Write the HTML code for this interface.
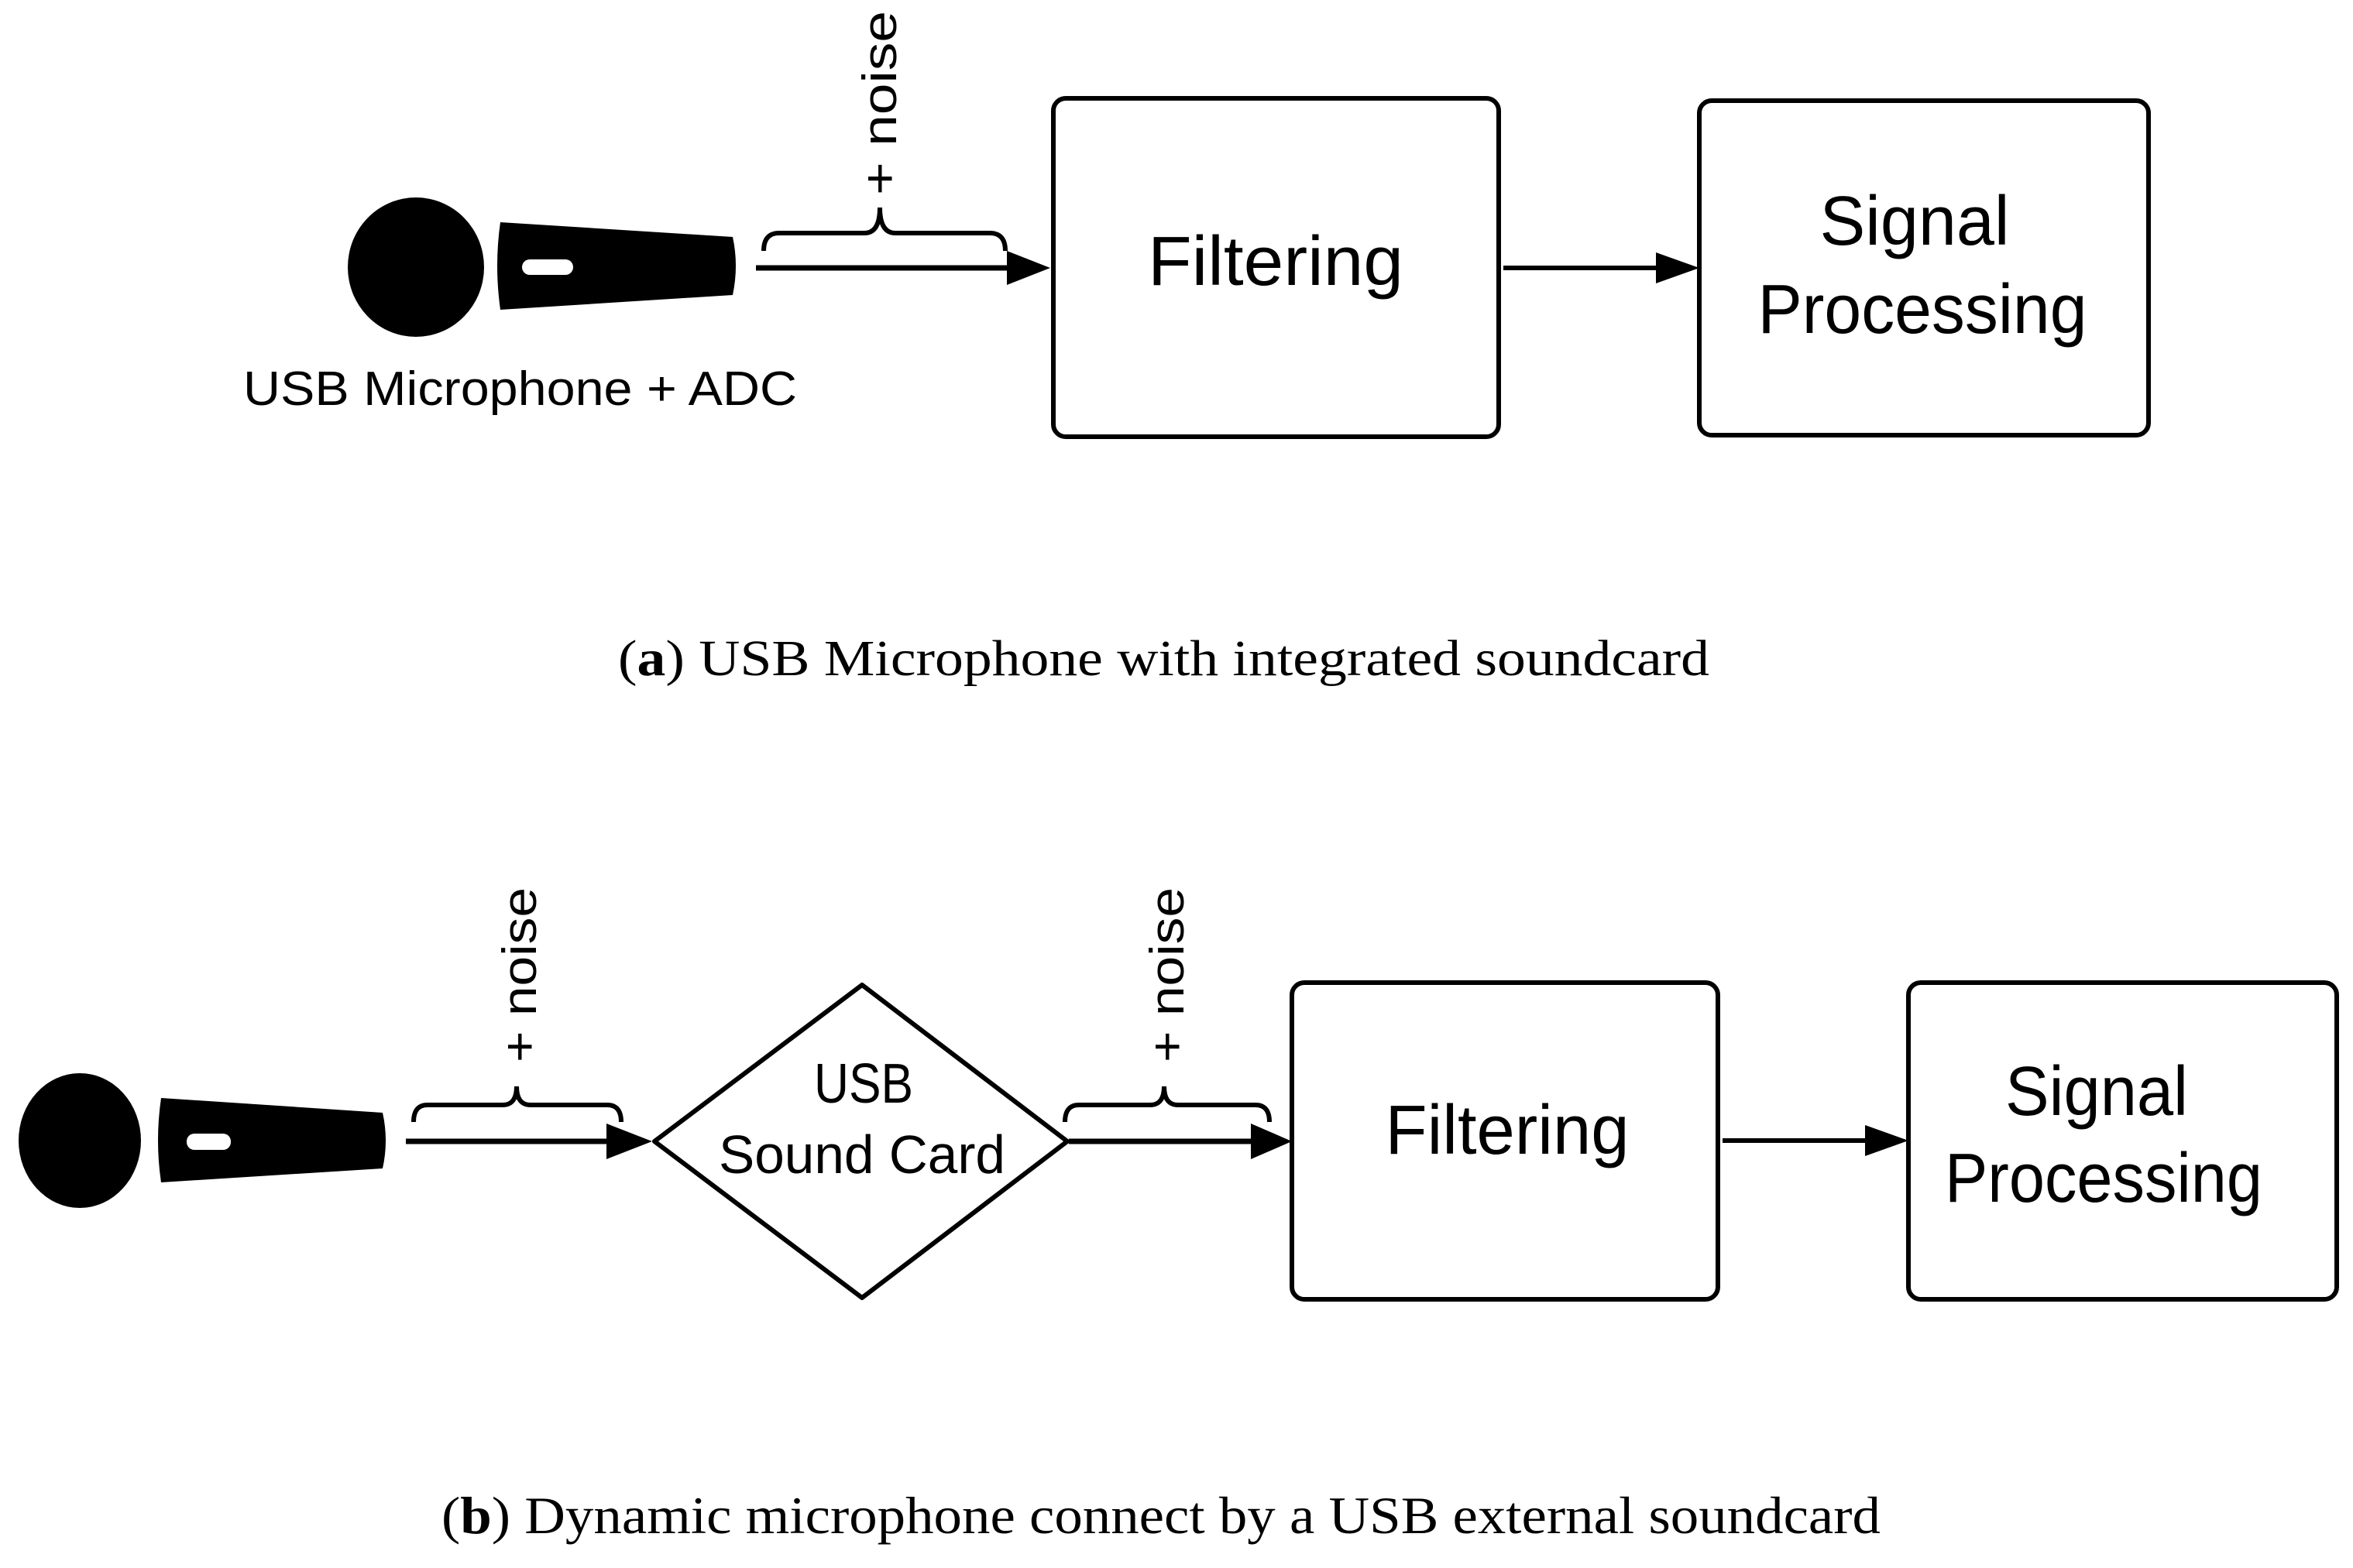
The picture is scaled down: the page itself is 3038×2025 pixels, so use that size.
<!DOCTYPE html>
<html><head><meta charset="utf-8"><style>
html,body{margin:0;padding:0;background:#fff;}
svg{display:block;}
.s{font-family:"Liberation Sans",sans-serif;fill:#000;}
.c{font-family:"Liberation Serif",serif;fill:#000;}
</style></head><body>
<svg width="3038" height="2025" viewBox="0 0 3038 2025" xmlns="http://www.w3.org/2000/svg">
<rect width="3038" height="2025" fill="#fff"/>
<ellipse cx="537" cy="345" rx="88" ry="90" fill="#000"/>
<path d="M646 287 L946 306 Q954 343 946 381 L646 400 Q638 343 646 287 Z" fill="#000"/>
<rect x="674" y="335" width="66" height="20" rx="10" fill="#fff"/>
<text class="s" x="314" y="523" font-size="62" textLength="715" lengthAdjust="spacingAndGlyphs">USB Microphone + ADC</text>
<line x1="976" y1="346" x2="1305" y2="346" stroke="#000" stroke-width="7"/>
<polygon points="1300,324 1356,346 1300,368" fill="#000"/>
<path d="M986 324 Q986 301 1006 301 L1116 301 Q1136 301 1136 268 Q1136 301 1156 301 L1278 301 Q1298 301 1298 324" fill="none" stroke="#000" stroke-width="6"/>
<text class="s" font-size="62" transform="translate(1157,252) rotate(-90)" textLength="238" lengthAdjust="spacingAndGlyphs">+ noise</text>
<rect x="1360" y="127" width="575" height="437" rx="16" fill="none" stroke="#000" stroke-width="6"/>
<text class="s" x="1647" y="368" font-size="90" text-anchor="middle" textLength="330" lengthAdjust="spacingAndGlyphs">Filtering</text>
<line x1="1941" y1="346" x2="2150" y2="346" stroke="#000" stroke-width="6"/>
<polygon points="2138,326 2194,346 2138,366" fill="#000"/>
<rect x="2194" y="130" width="580" height="432" rx="16" fill="none" stroke="#000" stroke-width="6"/>
<text class="s" x="2472" y="316" font-size="90" text-anchor="middle" textLength="245" lengthAdjust="spacingAndGlyphs">Signal</text>
<text class="s" x="2482" y="430" font-size="90" text-anchor="middle" textLength="425" lengthAdjust="spacingAndGlyphs">Processing</text>
<text class="c" x="798" y="872" font-size="66" textLength="1409" lengthAdjust="spacingAndGlyphs">(<tspan font-weight="bold">a</tspan>) USB Microphone with integrated soundcard</text>

<ellipse cx="103" cy="1473" rx="79" ry="87" fill="#000"/>
<path d="M208 1418 L494 1437 Q502 1473 494 1509 L208 1527 Q200 1473 208 1418 Z" fill="#000"/>
<rect x="241" y="1464" width="57" height="21" rx="10" fill="#fff"/>
<line x1="524" y1="1474" x2="790" y2="1474" stroke="#000" stroke-width="7"/>
<polygon points="783,1451 842,1474 783,1497" fill="#000"/>
<path d="M534 1449 Q534 1427 552 1427 L649 1427 Q667 1427 667 1403 Q667 1427 685 1427 L784 1427 Q802 1427 802 1449" fill="none" stroke="#000" stroke-width="6"/>
<text class="s" font-size="62" transform="translate(692,1372) rotate(-90)" textLength="226" lengthAdjust="spacingAndGlyphs">+ noise</text>
<path d="M1113 1272 L1378 1474 L1113 1676 L845 1474 Z" fill="none" stroke="#000" stroke-width="6" stroke-linejoin="round"/>
<text class="s" x="1115" y="1424" font-size="72" text-anchor="middle" textLength="128" lengthAdjust="spacingAndGlyphs">USB</text>
<text class="s" x="1113" y="1515" font-size="70" text-anchor="middle" textLength="370" lengthAdjust="spacingAndGlyphs">Sound Card</text>
<line x1="1380" y1="1474" x2="1620" y2="1474" stroke="#000" stroke-width="7"/>
<polygon points="1615,1451 1668,1474 1615,1497" fill="#000"/>
<path d="M1375 1449 Q1375 1427 1393 1427 L1485 1427 Q1503 1427 1503 1403 Q1503 1427 1521 1427 L1621 1427 Q1639 1427 1639 1449" fill="none" stroke="#000" stroke-width="6"/>
<text class="s" font-size="62" transform="translate(1528,1372) rotate(-90)" textLength="226" lengthAdjust="spacingAndGlyphs">+ noise</text>
<rect x="1668" y="1269" width="550" height="409" rx="16" fill="none" stroke="#000" stroke-width="6"/>
<text class="s" x="1946" y="1490" font-size="90" text-anchor="middle" textLength="315" lengthAdjust="spacingAndGlyphs">Filtering</text>
<line x1="2224" y1="1473" x2="2420" y2="1473" stroke="#000" stroke-width="6"/>
<polygon points="2408,1453 2464,1473 2408,1493" fill="#000"/>
<rect x="2464" y="1269" width="553" height="409" rx="16" fill="none" stroke="#000" stroke-width="6"/>
<text class="s" x="2707" y="1440" font-size="90" text-anchor="middle" textLength="236" lengthAdjust="spacingAndGlyphs">Signal</text>
<text class="s" x="2716" y="1552" font-size="90" text-anchor="middle" textLength="410" lengthAdjust="spacingAndGlyphs">Processing</text>
<text class="c" x="570" y="1980" font-size="68" textLength="1858" lengthAdjust="spacingAndGlyphs">(<tspan font-weight="bold">b</tspan>) Dynamic microphone connect by a USB external soundcard</text>
</svg>
</body></html>
